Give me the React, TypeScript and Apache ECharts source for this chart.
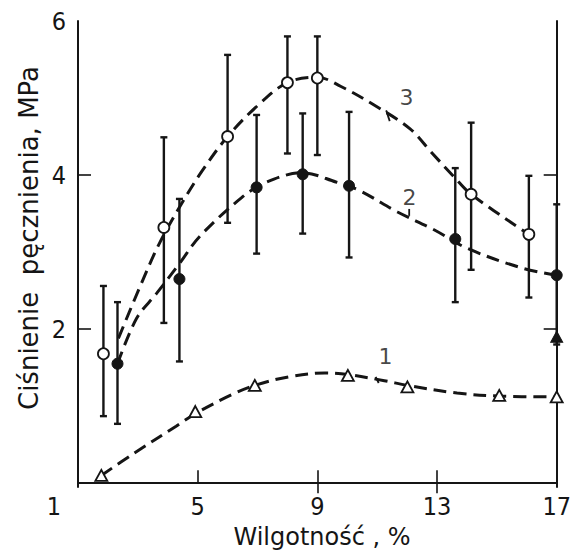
import React, { useEffect, useRef } from "react";
import * as echarts from "echarts";

// Open circles (curve 3)
const x3 = [1.85, 3.87, 6.0, 8.0, 9.0, 14.14, 16.07];
const y3 = [1.68, 3.32, 4.5, 5.2, 5.26, 3.75, 3.23];
const lo3 = [0.87, 2.08, 3.38, 4.28, 4.26, 2.77, 2.41];
const hi3 = [2.56, 4.49, 5.56, 5.8, 5.8, 4.68, 3.99];

// Filled circles (curve 2)
const x2 = [2.32, 4.39, 6.97, 8.51, 10.06, 13.61, 17];
const y2 = [1.55, 2.65, 3.84, 4.01, 3.86, 3.17, 2.7];
const lo2 = [0.77, 1.58, 2.98, 3.24, 2.93, 2.35, 1.8];
const hi2 = [2.35, 3.69, 4.78, 4.8, 4.82, 4.09, 3.62];

// Open triangles (curve 1)
const x1 = [1.78, 4.92, 6.91, 10.02, 12.01, 15.08, 17];
const y1 = [0.1, 0.93, 1.27, 1.4, 1.25, 1.14, 1.12];

// Filled triangle
const xT = [17];
const yT = [1.9];

// Fitted dashed curves
const curve3 = [[2.35, 1.88], [3.17, 2.64], [3.73, 3.12], [4.45, 3.62], [5.16, 4.06], [6, 4.5], [7, 4.9], [8, 5.2], [9, 5.27], [9.79, 5.15], [11.02, 4.88], [12.1, 4.6], [12.8, 4.3], [13.56, 3.98], [14.14, 3.75], [16.07, 3.23]];
const curve2 = [[2.32, 1.55], [2.96, 2.14], [3.62, 2.46], [4.39, 2.85], [5.06, 3.2], [6.48, 3.71], [7.31, 3.91], [8.5, 4.03], [9.62, 3.91], [10.4, 3.8], [11.68, 3.52], [12.9, 3.29], [14.0, 3.05], [15.87, 2.79], [17, 2.7]];
const curve1 = [[1.78, 0.1], [2.84, 0.38], [4.28, 0.74], [5.0, 0.92], [6.15, 1.15], [6.91, 1.27], [8.04, 1.38], [9.25, 1.43], [10.02, 1.41], [11.24, 1.33], [12.0, 1.27], [13.67, 1.17], [15.08, 1.13], [17, 1.12]];

// Curve labels
const curveNames = ["1", "2", "3"];
const curveLabelPos = [[11.28, 1.64], [12.08, 3.71], [11.98, 5.01]];
const leaders = [
  [[10.95, 1.38], [11.05, 1.3]],
  [[12.07, 3.56], [12.07, 3.47]],
  [[11.3, 4.84], [11.42, 4.7]],
];

const xTicks = [1, 5, 9, 13, 17];
const yTicks = [2, 4, 6];

const INK = "#151515";
const NUM_FONT = "'Liberation Sans Narrow', 'DejaVu Sans Condensed', 'Liberation Sans', sans-serif";
const TITLE_FONT = "'DejaVu Sans', sans-serif";

function errorSeries(xs: number[], lo: number[], hi: number[]) {
  return {
    type: "custom",
    z: 2,
    silent: true,
    data: xs.map((x, i) => [x, lo[i], hi[i]]),
    renderItem: (params: any, api: any) => {
      const x = api.value(0);
      const a = api.coord([x, api.value(2)]);
      const b = api.coord([x, api.value(1)]);
      const w = 3.5;
      const st = { stroke: INK, lineWidth: 2.4 };
      return {
        type: "group",
        children: [
          { type: "line", shape: { x1: a[0], y1: a[1], x2: b[0], y2: b[1] }, style: st },
          { type: "line", shape: { x1: a[0] - w, y1: a[1], x2: a[0] + w, y2: a[1] }, style: st },
          { type: "line", shape: { x1: b[0] - w, y1: b[1], x2: b[0] + w, y2: b[1] }, style: st },
        ],
      };
    },
  };
}

function dashed(data: number[][]) {
  return {
    type: "line",
    z: 3,
    data,
    smooth: 0.35,
    showSymbol: false,
    symbol: "none",
    silent: true,
    lineStyle: { color: INK, width: 3, type: [13, 7], cap: "butt" },
  };
}

export default function App() {
  const ref = useRef<HTMLDivElement>(null);
  useEffect(() => {
    if (!ref.current) return;
    const chart = echarts.init(ref.current, undefined, { renderer: "svg" });
    const axisLine = { show: true, lineStyle: { color: INK, width: 2 } };
    const option: any = {
      animation: false,
      backgroundColor: "#ffffff",
      grid: { left: 78, right: 13, top: 21, bottom: 66 },
      xAxis: [
        {
          type: "value",
          min: 1,
          max: 17,
          position: "bottom",
          axisLine,
          splitLine: { show: false },
          axisTick: { show: true, inside: true, length: 13, lineStyle: { color: INK, width: 1.6 }, customValues: [5, 9, 13] },
          axisLabel: {
            customValues: xTicks,
            margin: 7,
            color: INK,
            fontFamily: NUM_FONT,
            fontSize: 25,
            formatter: (v: number) => (v === 1 ? "{a|1}" : String(v)),
            rich: { a: { fontFamily: NUM_FONT, fontSize: 25, color: INK, padding: [0, 48, 0, 0] } },
          },
        },
        {
          type: "value",
          min: 1,
          max: 17,
          position: "top",
          axisLine,
          splitLine: { show: false },
          axisTick: { show: true, inside: true, length: 10, lineStyle: { color: INK, width: 1.6 }, customValues: [9, 13] },
          axisLabel: { show: false },
        },
      ],
      yAxis: [
        {
          type: "value",
          min: -0.05,
          max: 6,
          position: "left",
          axisLine,
          splitLine: { show: false },
          axisTick: { show: true, inside: true, length: 13, lineStyle: { color: INK, width: 1.6 }, customValues: [2, 4] },
          axisLabel: { customValues: yTicks, margin: 12, color: INK, fontFamily: NUM_FONT, fontSize: 25 },
        },
        {
          type: "value",
          min: -0.05,
          max: 6,
          position: "right",
          axisLine,
          splitLine: { show: false },
          axisTick: { show: true, inside: true, length: 13, lineStyle: { color: INK, width: 1.6 }, customValues: [2, 4] },
          axisLabel: { show: false },
        },
      ],
      graphic: [
        {
          type: "text",
          x: 29,
          y: 238,
          rotation: Math.PI / 2,
          style: {
            text: "Ciśnienie  pęcznienia, MPa",
            font: `26px ${TITLE_FONT}`,
            fill: INK,
            align: "center",
            verticalAlign: "middle",
            textAlign: "center",
            textVerticalAlign: "middle",
          },
        },
        {
          type: "text",
          x: 322,
          y: 537,
          style: {
            text: "Wilgotność , %",
            font: `24px ${TITLE_FONT}`,
            fill: INK,
            align: "center",
            verticalAlign: "middle",
            textAlign: "center",
            textVerticalAlign: "middle",
          },
        },
      ],
      series: [
        errorSeries(x3, lo3, hi3),
        errorSeries(x2, lo2, hi2),
        dashed(curve3),
        dashed(curve2),
        dashed(curve1),
        ...leaders.map((l) => ({
          type: "line",
          z: 3,
          data: l,
          symbol: "none",
          silent: true,
          lineStyle: { color: INK, width: 1.8 },
        })),
        {
          type: "scatter",
          z: 5,
          data: x3.map((x, i) => [x, y3[i]]),
          symbol: "circle",
          symbolSize: 11,
          itemStyle: { color: "#ffffff", borderColor: INK, borderWidth: 1.8, opacity: 1 },
        },
        {
          type: "scatter",
          z: 5,
          data: x2.map((x, i) => [x, y2[i]]),
          symbol: "circle",
          symbolSize: 11,
          itemStyle: { color: INK, borderColor: INK, borderWidth: 1, opacity: 1 },
        },
        {
          type: "scatter",
          z: 5,
          data: x1.map((x, i) => [x, y1[i]]),
          symbol: "triangle",
          symbolSize: [12, 11],
          itemStyle: { color: "#ffffff", borderColor: INK, borderWidth: 1.8, opacity: 1 },
        },
        {
          type: "scatter",
          z: 5,
          data: xT.map((x, i) => [x, yT[i]]),
          symbol: "triangle",
          symbolSize: [12, 11],
          itemStyle: { color: INK, borderColor: INK, borderWidth: 1, opacity: 1 },
        },
        {
          type: "scatter",
          z: 6,
          silent: true,
          data: curveLabelPos.map((p, i) => ({ value: p, name: curveNames[i] })),
          symbolSize: 1,
          itemStyle: { color: "rgba(0,0,0,0)" },
          label: {
            show: true,
            position: "inside",
            formatter: (p: any) => p.name,
            color: INK,
            fontFamily: TITLE_FONT,
            fontSize: 22,
          },
        },
      ],
    };
    chart.setOption(option);
    return () => chart.dispose();
  }, []);
  return <div ref={ref} style={{ width: 574, height: 553, position: "absolute", left: 0, top: 0 }} />;
}
